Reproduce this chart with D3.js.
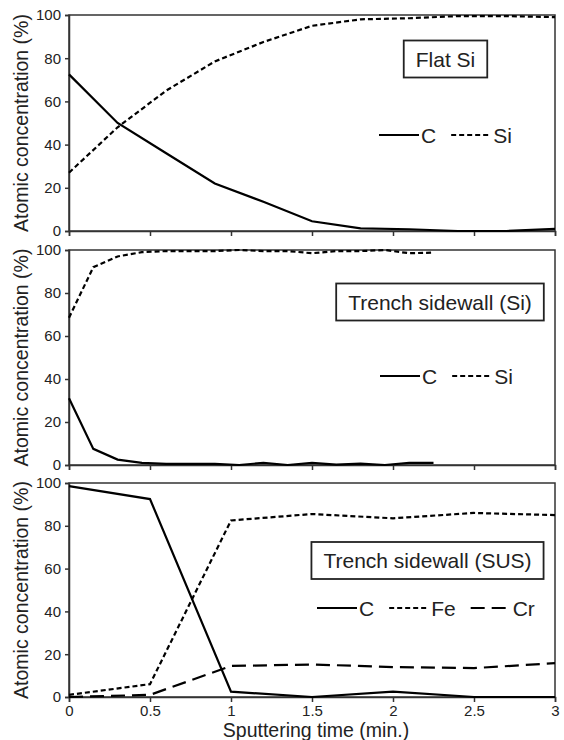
<!DOCTYPE html>
<html lang="en">
<head>
    <meta charset="UTF-8">
    <title>Atomic concentration depth profiles</title>
    <script src="https://d3js.org/d3.v7.min.js"></script>
    <style>
        body { margin: 0; background: #fff; font-family: "Liberation Sans", Arial, sans-serif; }
        svg text { fill: #222; }
    </style>
</head>
<body>
    <script>
        // Data (sputtering time in min., concentration in %)
        const timeFlat = [0, 0.3, 0.6, 0.9, 1.2, 1.5, 1.8, 2.1, 2.4, 2.7, 3];
        const flatC  = [72.5, 50, 36, 22, 13.5, 4.5, 1.2, 0.8, 0, 0, 1];
        const flatSi = [27, 48, 65, 78.5, 87.5, 95, 98, 98.5, 99.5, 99.5, 99];

        const timeTrench = [0, 0.15, 0.3, 0.45, 0.6, 0.75, 0.9, 1.05, 1.2, 1.35, 1.5, 1.65, 1.8, 1.95, 2.1, 2.25];
        const trenchC  = [31, 7.5, 2.5, 1, 0.5, 0.5, 0.5, 0, 1, 0, 1, 0.2, 0.6, 0, 1, 1];
        const trenchSi = [68.5, 92, 97, 99, 99.5, 99.5, 99.5, 100, 99.5, 99.5, 98.5, 99.5, 99.5, 100, 98.5, 98.8];

        const timeSus = [0, 0.5, 1, 1.5, 2, 2.5, 3];
        const susC  = [98.5, 92.5, 2.5, 0, 2.5, 0, 0];
        const susFe = [1, 6, 82.5, 85.5, 83.5, 86, 85];
        const susCr = [0, 1, 14.5, 15.2, 14, 13.5, 15.8];

        const xTicks = [0, 0.5, 1, 1.5, 2, 2.5, 3];
        const yTicks = [0, 20, 40, 60, 80, 100];
        const yTitle = "Atomic concentration (%)";
        const xTitle = "Sputtering time (min.)";

        const W = 564, H = 740;
        const left = 69, right = 555;

        const solid = null, shortDash = "5,3", longDash = "14,7";

        const panels = [
            { top: 15, bottom: 231, label: "Flat Si", boxCx: 445.5, boxCy: 59, legX: 379, legY: 135, xLabels: false,
              series: [ { name: "C", x: timeFlat, y: flatC, dash: solid },
                        { name: "Si", x: timeFlat, y: flatSi, dash: shortDash } ] },
            { top: 250, bottom: 465, label: "Trench sidewall (Si)", boxCx: 440, boxCy: 302, legX: 380, legY: 376, xLabels: false,
              series: [ { name: "C", x: timeTrench, y: trenchC, dash: solid },
                        { name: "Si", x: timeTrench, y: trenchSi, dash: shortDash } ] },
            { top: 483, bottom: 697, label: "Trench sidewall (SUS)", boxCx: 427.5, boxCy: 560.5, legX: 317, legY: 608, xLabels: true,
              series: [ { name: "C", x: timeSus, y: susC, dash: solid },
                        { name: "Fe", x: timeSus, y: susFe, dash: shortDash },
                        { name: "Cr", x: timeSus, y: susCr, dash: longDash } ] }
        ];

        const svg = d3.select("body").append("svg")
            .attr("width", W)
            .attr("height", H);

        const x = d3.scaleLinear().domain([0, 3]).range([left, right]);

        panels.forEach(p => {
            const y = d3.scaleLinear().domain([0, 100]).range([p.bottom, p.top]);
            const g = svg.append("g");

            // frame (top and right)
            g.append("rect")
                .attr("x", left).attr("y", p.top)
                .attr("width", right - left).attr("height", p.bottom - p.top)
                .attr("fill", "none").attr("stroke", "#333").attr("stroke-width", 1.5);

            // y axis
            const ya = g.append("g")
                .attr("transform", `translate(${left},0)`)
                .call(d3.axisLeft(y).tickValues(yTicks).tickSize(4).tickPadding(4));
            ya.selectAll("text").style("font-size", "15px").style("font-family", "Liberation Sans, Arial, sans-serif");

            // x axis
            const xa = g.append("g")
                .attr("transform", `translate(0,${p.bottom})`)
                .call(d3.axisBottom(x).tickValues(xTicks).tickSize(5).tickPadding(3)
                    .tickFormat(p.xLabels ? d3.format("") : () => ""));
            xa.selectAll("text").style("font-size", "15px").style("font-family", "Liberation Sans, Arial, sans-serif");

            [ya, xa].forEach(a => {
                a.select(".domain").attr("stroke", "#333").attr("stroke-width", 1.5);
                a.selectAll(".tick line").attr("stroke", "#333").attr("stroke-width", 1.5);
                a.selectAll(".tick text").attr("fill", "#222");
            });

            // y title
            g.append("text")
                .attr("transform", `translate(21,${(p.top + p.bottom) / 2}) rotate(-90)`)
                .attr("text-anchor", "middle")
                .attr("dy", "0.35em")
                .style("font-size", "19.5px")
                .text(yTitle);

            // data lines
            const line = d3.line().x(d => x(d[0])).y(d => y(d[1]));
            p.series.forEach(s => {
                g.append("path")
                    .datum(s.x.map((t, i) => [t, s.y[i]]))
                    .attr("d", line)
                    .attr("fill", "none")
                    .attr("stroke", "#000")
                    .attr("stroke-width", 2.2)
                    .attr("stroke-dasharray", s.dash);
            });

            // label box
            const boxG = g.append("g");
            const box = boxG.append("rect");
            const lbl = boxG.append("text")
                .attr("x", p.boxCx).attr("y", p.boxCy)
                .attr("text-anchor", "middle")
                .attr("dy", "0.36em")
                .style("font-size", "21px")
                .text(p.label);
            const tw = lbl.node().getComputedTextLength();
            box.attr("x", p.boxCx - tw / 2 - 12).attr("y", p.boxCy - 18.5)
                .attr("width", tw + 24).attr("height", 37)
                .attr("fill", "#fff").attr("stroke", "#222").attr("stroke-width", 1.8);

            // legend
            let lx = p.legX;
            p.series.forEach(s => {
                g.append("line")
                    .attr("x1", lx).attr("x2", lx + 40)
                    .attr("y1", p.legY).attr("y2", p.legY)
                    .attr("stroke", "#000").attr("stroke-width", 2)
                    .attr("stroke-dasharray", s.dash);
                const t = g.append("text")
                    .attr("x", lx + 42).attr("y", p.legY)
                    .attr("dy", "0.36em")
                    .style("font-size", "21px")
                    .text(s.name);
                lx += 42 + t.node().getComputedTextLength() + 15;
            });
        });

        // x title
        svg.append("text")
            .attr("x", (left + right) / 2 + 4)
            .attr("y", 737)
            .attr("text-anchor", "middle")
            .style("font-size", "19.5px")
            .text(xTitle);
    </script>
</body>
</html>
